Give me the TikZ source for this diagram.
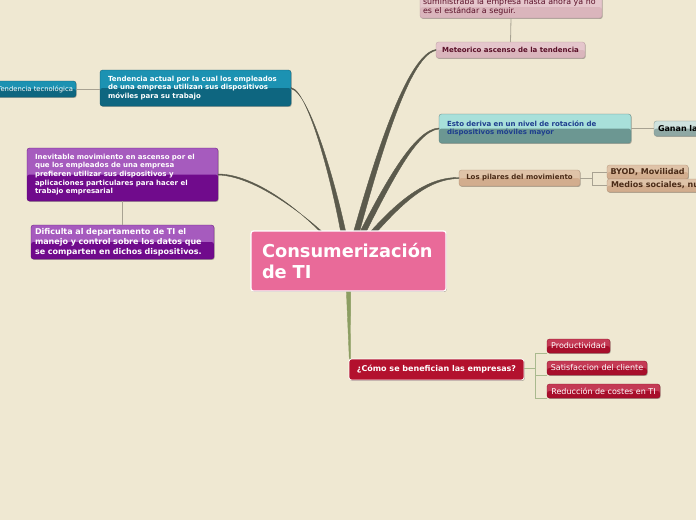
\documentclass[tikz,border=0pt]{standalone}
\usepackage{fontspec}
\setmainfont{DejaVu Sans}
\usetikzlibrary{calc,shadows}
\definecolor{bg}{HTML}{EFE8D2}
\definecolor{conn}{HTML}{5B5A4C}
\definecolor{grn}{HTML}{8C9E62}
\definecolor{pinkC}{HTML}{E96A99}
\definecolor{tealT}{HTML}{1C92B2}
\definecolor{tealB}{HTML}{0E6680}
\definecolor{purT}{HTML}{A65BBE}
\definecolor{purB}{HTML}{700B8C}
\definecolor{lteaT}{HTML}{A8E0DA}
\definecolor{lteaB}{HTML}{6C9792}
\definecolor{ltext}{HTML}{1E3E8E}
\definecolor{rosT}{HTML}{E5C6CC}
\definecolor{rosB}{HTML}{DAB5BC}
\definecolor{rostext}{HTML}{5A1028}
\definecolor{tanT}{HTML}{DFC3A8}
\definecolor{tanB}{HTML}{D2AD8E}
\definecolor{tantext}{HTML}{4A2A16}
\definecolor{crim}{HTML}{B3112E}
\definecolor{crimT}{HTML}{C43A55}
\definecolor{crimB}{HTML}{A80E2B}
\definecolor{ganT}{HTML}{CFE2DE}
\definecolor{ganB}{HTML}{8FA8A4}
\definecolor{lgrey}{HTML}{A8A292}
\definecolor{lgreen}{HTML}{A9B98E}
\begin{document}
\begin{tikzpicture}[x=1pt,y=-1pt,
  box/.style={rounded corners=2.5pt, inner ysep=0pt, outer sep=0pt,
    drop shadow={shadow xshift=0.7pt,shadow yshift=-0.9pt,opacity=0.3,fill=black}},
  two/.style 2 args={fill=#1, draw=#2!85!black, line width=0.3pt,
    path picture={\fill[#2] (path picture bounding box.west) rectangle (path picture bounding box.south east);}},
  fa/.style={font=\fontsize{7}{8.6}\selectfont\bfseries},
  fb/.style={font=\fontsize{8}{10}\selectfont\bfseries},
  fc/.style={font=\fontsize{8}{9}\selectfont},
  thinln/.style={lgrey, line width=0.8pt},
  brk/.style={lgreen, line width=0.8pt},
  tap/.style={fill=conn, draw=conn, line width=0.4pt}
]
\fill[bg] (0,0) rectangle (696,520);
\useasboundingbox (0,0) rectangle (696,520);
\clip (0,0) rectangle (696,520);

\coordinate (C) at (348.5,261);

% ---- nodes ----
\node[box, two={rosT}{rosB}, text=rostext, font=\fontsize{7.9}{7.7}\selectfont, align=left,
      text width=176pt, inner xsep=3pt, inner ysep=2.5pt, anchor=south] (top) at (511,18)
  {suministraba la empresa hasta ahora ya no\\es el estándar a seguir.};
\node[box, two={rosT}{rosB}, text=rostext, fa, align=center,
      minimum width=149pt, minimum height=16pt, inner xsep=2pt] (met) at (510.5,50)
  {Meteorico ascenso de la tendencia};
\node[box, two={tealT}{tealB}, text=white, fa, align=left,
      text width=175pt, inner xsep=8pt, minimum height=36pt] (tend) at (195.5,88)
  {Tendencia actual por la cual los empleados\\de una empresa utilizan sus dispositivos\\móviles para su trabajo};
\node[box, two={tealT}{tealB}, text=white, font=\fontsize{6.8}{7}\selectfont, align=left,
      inner xsep=3pt, minimum height=16pt, anchor=east] (tt) at (76,89)
  {Tendencia tecnológica};
\node[box, two={purT}{purB}, text=white, fa, align=left,
      text width=175pt, inner xsep=8pt, minimum height=53pt] (inev) at (122.5,174.5)
  {Inevitable movimiento en ascenso por el\\que los empleados de una empresa\\prefieren utilizar sus dispositivos y\\aplicaciones particulares para hacer el\\trabajo empresarial};
\node[box, two={purT}{purB}, text=white, font=\fontsize{8}{10}\selectfont\bfseries, align=left,
      text width=175pt, inner xsep=4pt, minimum height=34pt] (dif) at (122.5,242)
  {Dificulta al departamento de TI el\\manejo y control sobre los datos que\\se comparten en dichos dispositivos.};
\node[box, two={lteaT}{lteaB}, text=ltext, fa, align=left,
      text width=176pt, inner xsep=8pt, minimum height=29pt] (esto) at (535,128.5)
  {Esto deriva en un nivel de rotación de\\dispositivos móviles mayor};
\node[box, two={ganT}{ganB}, text=black, fb, align=left,
      text width=72pt, inner xsep=4pt, minimum height=15pt, anchor=west] (gan) at (654,128.5)
  {Ganan la};
\node[box, two={tanT}{tanB}, text=tantext, fa, align=center,
      minimum width=121pt, minimum height=16pt, inner xsep=2pt] (pil) at (519.5,178)
  {Los pilares del movimiento};
\node[box, two={tanT}{tanB}, text=tantext, fb,
      inner xsep=3.5pt, minimum height=14pt, anchor=west] (byod) at (607,172)
  {BYOD, Movilidad};
\node[box, two={tanT}{tanB}, text=tantext, fb, align=left,
      text width=100pt, inner xsep=4pt, minimum height=13pt, anchor=west] (med) at (607,185.5)
  {Medios sociales, nube};
\node[box, fill=crim, draw=white, line width=0.8pt, text=white, fb, align=center,
      minimum width=175pt, minimum height=21pt, inner xsep=2pt] (como) at (436.5,369.5)
  {¿Cómo se benefician las empresas?};
\node[box, two={crimT}{crimB}, text=white, fc, align=center,
      minimum width=63pt, minimum height=14pt, inner xsep=2pt] (prod) at (578.5,346)
  {Productividad};
\node[box, two={crimT}{crimB}, text=white, fc, align=center,
      minimum width=100pt, minimum height=14pt, inner xsep=2pt] (sat) at (597,368)
  {Satisfaccion del cliente};
\node[box, two={crimT}{crimB}, text=white, fc, align=center,
      minimum width=113pt, minimum height=14pt, inner xsep=2pt] (red) at (603.5,391)
  {Reducción de costes en TI};

% ---- thin connectors ----
\draw[thinln] (top.south) -- (met.north);
\draw[thinln] (tt.east) -- (tt.east -| tend.west);
\draw[thinln] (inev.south) -- (dif.north);
\draw[thinln] (esto.east) -- (gan.west);
\coordinate (pb) at ($(pil.east)+(12,0)$);
\draw[thinln] (pil.east) -- (pb);
\draw[thinln] (byod.west) -| (pb);
\draw[thinln] (med.west) -| (pb);
\coordinate (cb) at ($(como.east)+(11,-1)$);
\draw[brk] ($(como.east)+(0,-1)$) -- (cb);
\draw[brk] (prod.south west) -| (cb);
\draw[brk] (sat.south west) -| (cb);
\draw[brk] (red.south west) -| (cb);

% ---- tapered connectors ----
\filldraw[tap] ($(C)+(-3,0)$) .. controls (337,200) and (310,91) .. ($(tend.east)+(0,-0.5)$)
  -- ($(tend.east)+(0,0.5)$) .. controls (311,93) and (341,200) .. ($(C)+(3,0)$) -- cycle;
\filldraw[tap] ($(C)+(-3,0)$) .. controls (369,175) and (405,54) .. ($(met.west)+(0,-0.5)$)
  -- ($(met.west)+(0,0.5)$) .. controls (407,56) and (375,175) .. ($(C)+(3,0)$) -- cycle;
\filldraw[tap] ($(C)+(-3,0)$) .. controls (385,180) and (415,129) .. ($(esto.west)+(0,-0.5)$)
  -- ($(esto.west)+(0,0.5)$) .. controls (416,131) and (391,182) .. ($(C)+(3,0)$) -- cycle;
\filldraw[tap] ($(C)+(-3,0)$) .. controls (387,210) and (420,177) .. ($(pil.west)+(0,-0.5)$)
  -- ($(pil.west)+(0,0.5)$) .. controls (421,179) and (392,214) .. ($(C)+(3,0)$) -- cycle;
\filldraw[tap] ($(C)+(-3,0)$) .. controls (318,223) and (260,174) .. ($(inev.east)+(0,-0.5)$)
  -- ($(inev.east)+(0,0.5)$) .. controls (260,176) and (322,227) .. ($(C)+(3,0)$) -- cycle;
\filldraw[fill=grn, draw=grn, line width=0.4pt] ($(C)+(-2.2,28)$) -- ($(como.north west)+(0.3,0)$)
  -- ($(como.north west)+(1.3,0)$) -- ($(C)+(2.2,28)$) -- cycle;

% central node on top
\node[box, fill=pinkC, draw=white, line width=1.2pt, text=white,
      font=\fontsize{17.8}{21}\selectfont\bfseries, align=left,
      text width=173pt, inner xsep=11pt, minimum height=60pt] (cen) at (C)
  {Consumerización\\de TI};
\end{tikzpicture}
\end{document}
